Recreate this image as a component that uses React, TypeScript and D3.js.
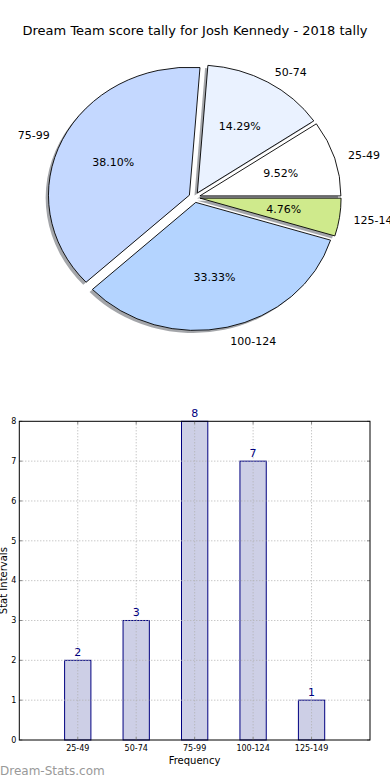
import React from "react";
import * as d3 from "d3";

const categories = ["25-49", "50-74", "75-99", "100-124", "125-149"];
const counts = [2, 3, 8, 7, 1];
const pieColors = ["#ffffff", "#eaf2ff", "#c4d8ff", "#b4d4ff", "#cfea8c"];
const yTicks = [0, 1, 2, 3, 4, 5, 6, 7, 8];
const title = "Dream Team score tally for Josh Kennedy - 2018 tally";

const FONT = "DejaVu Sans, sans-serif";

export default function App() {
  // Pie geometry (elliptical, as in the reference)
  const cx = 194.5, cy = 197.4, rx = 141, ry = 128;
  const explode = 0.04;
  const total = d3.sum(counts);
  let acc = 0;
  const slices = counts.map((v, i) => {
    const t1 = (acc / total) * 2 * Math.PI;
    acc += v;
    const t2 = (acc / total) * 2 * Math.PI;
    const mid = (t1 + t2) / 2;
    return { i, v, t1, t2, mid };
  });
  const arc = d3.arc<any>().innerRadius(0).outerRadius(1);

  // Bar chart geometry
  const left = 19.3, right = 370, top = 421.3, bottom = 740;
  const x = d3.scaleLinear().domain([-1, 5]).range([left, right]);
  const y = d3.scaleLinear().domain([0, 8]).range([bottom, top]);
  const bw = 0.45;

  return (
    <svg width={390} height={780} style={{ position: "absolute", left: 0, top: 0, background: "#fff" }}>
      <rect x={0} y={0} width={390} height={780} fill="#fff" />
      <text x={195} y={35} textAnchor="middle" fontFamily={FONT} fontSize={13} fill="#000">{title}</text>

      {slices.map((s) => {
        const ox = cx + explode * rx * Math.cos(s.mid);
        const oy = cy - explode * ry * Math.sin(s.mid);
        const d = arc({ startAngle: Math.PI / 2 - s.t2, endAngle: Math.PI / 2 - s.t1 }) as string;
        return (
          <g key={s.i}>
            <g transform={`translate(${ox - 0.02 * rx},${oy + 0.02 * ry}) scale(${rx},${ry})`}>
              <path d={d} fill="#4a4d55" fillOpacity={0.5} stroke="none" />
            </g>
            <g transform={`translate(${ox},${oy}) scale(${rx},${ry})`}>
              <path d={d} fill={pieColors[s.i]} stroke="#000" strokeWidth={0.9} vectorEffect="non-scaling-stroke" strokeLinejoin="round" />
            </g>
          </g>
        );
      })}

      {slices.map((s) => {
        const ox = cx + explode * rx * Math.cos(s.mid);
        const oy = cy - explode * ry * Math.sin(s.mid);
        const lx = ox + 1.1 * rx * Math.cos(s.mid);
        const ly = oy - 1.1 * ry * Math.sin(s.mid);
        const px = ox + 0.6 * rx * Math.cos(s.mid);
        const py = oy - 0.6 * ry * Math.sin(s.mid);
        const pct = ((s.v / total) * 100).toFixed(2) + "%";
        return (
          <g key={"l" + s.i} fontFamily={FONT} fontSize={11} fill="#000">
            <text x={lx} y={ly + 1} dy="0.35em" textAnchor={lx > cx ? "start" : "end"}>{categories[s.i]}</text>
            <text x={px} y={py} dy="0.35em" textAnchor="middle">{pct}</text>
          </g>
        );
      })}

      {/* Bar chart */}
      {counts.map((v, i) => (
        <rect key={"b" + i} x={x(i - bw / 2)} y={y(v)} width={x(bw) - x(0)} height={y(0) - y(v)}
          fill="#cdcfe6" stroke="#000080" strokeWidth={1} />
      ))}
      {yTicks.slice(1, -1).map((t) => (
        <line key={"gy" + t} x1={left} x2={right} y1={y(t)} y2={y(t)} stroke="#b0b0b0" strokeWidth={1} strokeDasharray="1,2" />
      ))}
      {categories.map((c, i) => (
        <line key={"gx" + i} x1={x(i)} x2={x(i)} y1={top} y2={bottom} stroke="#b0b0b0" strokeWidth={1} strokeDasharray="1,2" />
      ))}
      {yTicks.map((t) => (
        <g key={"ty" + t}>
          <line x1={left} x2={left + 3} y1={y(t)} y2={y(t)} stroke="#888" />
          <line x1={right - 3} x2={right} y1={y(t)} y2={y(t)} stroke="#888" />
          <text x={left - 3} y={y(t)} dy="0.35em" textAnchor="end" fontFamily={FONT} fontSize={8} fill="#000">{t}</text>
        </g>
      ))}
      {categories.map((c, i) => (
        <g key={"tx" + i}>
          <line x1={x(i)} x2={x(i)} y1={bottom} y2={bottom - 3} stroke="#888" />
          <line x1={x(i)} x2={x(i)} y1={top} y2={top + 3} stroke="#888" />
          <text x={x(i)} y={bottom + 11} textAnchor="middle" fontFamily={FONT} fontSize={8} fill="#000">{c}</text>
        </g>
      ))}
      <rect x={left} y={top} width={right - left} height={bottom - top} fill="none" stroke="#000" strokeWidth={1} />
      {counts.map((v, i) => (
        <text key={"v" + i} x={x(i)} y={y(v) - 4} textAnchor="middle" fontFamily={FONT} fontSize={11} fill="#000080">{v}</text>
      ))}
      <text x={194.5} y={764} textAnchor="middle" fontFamily={FONT} fontSize={10} fill="#000">Frequency</text>
      <text transform={`translate(7,${(top + bottom) / 2}) rotate(-90)`} textAnchor="middle" fontFamily={FONT} fontSize={10} fill="#000">Stat Intervals</text>
      <text x={0} y={775} fontFamily={FONT} fontSize={12} fill="#999">Dream-Stats.com</text>
    </svg>
  );
}
